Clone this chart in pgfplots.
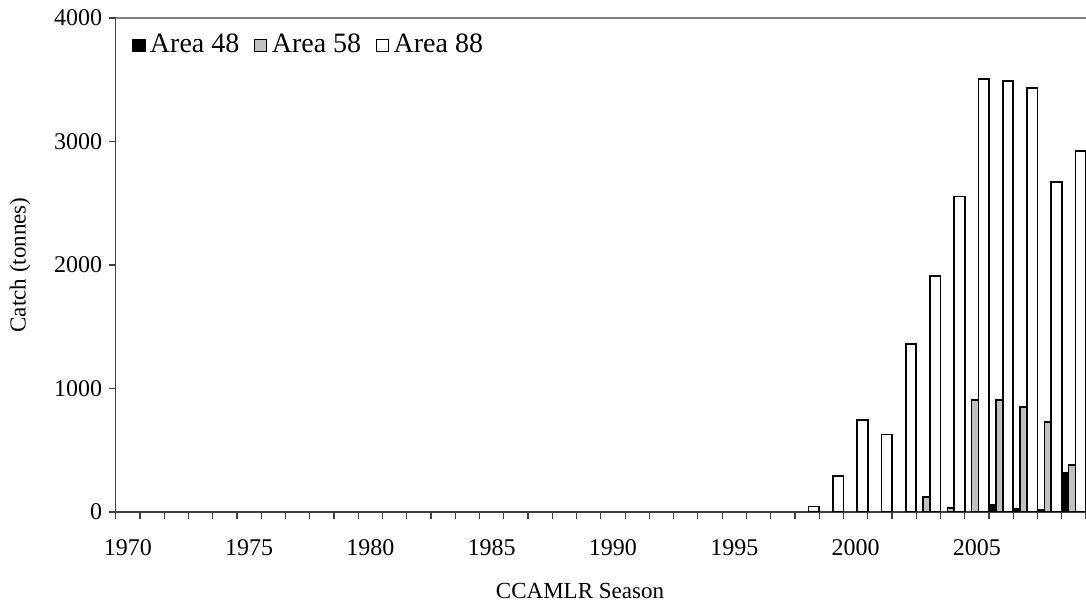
\documentclass[border=0pt]{standalone}
\usepackage{fontspec}
\setmainfont{Liberation Serif}
\usepackage{pgfplots}
\pgfplotsset{compat=1.18}
\definecolor{barGray}{RGB}{192,192,192}
\definecolor{axGray}{RGB}{64,64,64}
\begin{document}
\begin{tikzpicture}
\useasboundingbox (-57.85pt,-48pt) rectangle (485.15pt,256pt);
\begin{axis}[
  at={(0,0)}, anchor=south west,
  scale only axis,
  width=485.15pt, height=247pt,
  xmin=1969.5, xmax=2009.5,
  ymin=0, ymax=4000,
  axis x line*=bottom, axis y line*=left,
  axis line style={axGray, line width=0.7pt},
  every tick/.style={axGray, line width=0.6pt},
  tick align=outside,
  major tick length=3.3pt,
  xtick={1969.5,1970.5,...,2009.5},
  xticklabels={},
  extra x ticks={1970,1975,1980,1985,1990,1995,2000,2005},
  extra x tick labels={1970,1975,1980,1985,1990,1995,2000,2005},
  extra x tick style={major tick length=0pt,
    xticklabel style={anchor=base, yshift=-22pt}},
  ytick={0,1000,2000,3000,4000},
  /pgf/number format/1000 sep={},
  /pgf/number format/assume math mode=true,
  font=\fontsize{11.5}{13.8}\selectfont,
  ticklabel style={font=\fontsize{12}{14.4}\selectfont},
  ylabel={Catch (tonnes)},
  ylabel style={at={(axis description cs:-0.0986,0.5)}, anchor=center, rotate=0},
  xlabel={CCAMLR Season},
  xlabel style={at={(axis description cs:0.4785,0)}, anchor=center, yshift=-39.5pt},
  legend columns=3,
  legend style={draw=none, fill=none, at={(axis description cs:0.0168,0.945)}, anchor=west,
    inner sep=0pt, font=\fontsize{14}{16.8}\selectfont,
    nodes={inner ysep=1.5pt, inner xsep=2.2pt},
    /tikz/every even column/.append style={column sep=5.2pt}},
  legend image code/.code={\draw[#1, line width=0.6pt] (0pt,-3pt) rectangle (6pt,3pt);},
]
\addplot[ybar, bar width=5.25pt, bar shift=-3.45pt, fill=black, draw=black, line width=0.8pt]
  coordinates {(2006,59) (2007,27) (2008,14) (2009,318)};
\addlegendentry{Area 48}
\addplot[ybar, bar width=5.25pt, bar shift=0pt, fill=barGray, draw=black, line width=0.8pt]
  coordinates {(2003,119) (2004,30) (2005,907) (2006,905) (2007,848) (2008,731) (2009,380)};
\addlegendentry{Area 58}
\addplot[ybar, bar width=5.25pt, bar shift=3.45pt, fill=white, draw=black, line width=0.8pt]
  coordinates {(1998,43) (1999,291) (2000,745) (2001,629) (2002,1358) (2003,1912) (2004,2553)
               (2005,3506) (2006,3490) (2007,3431) (2008,2672) (2009,2921)};
\addlegendentry{Area 88}
\draw[black!50, line width=0.7pt] (rel axis cs:0,1) -- (rel axis cs:1,1);
\end{axis}
\end{tikzpicture}
\end{document}
